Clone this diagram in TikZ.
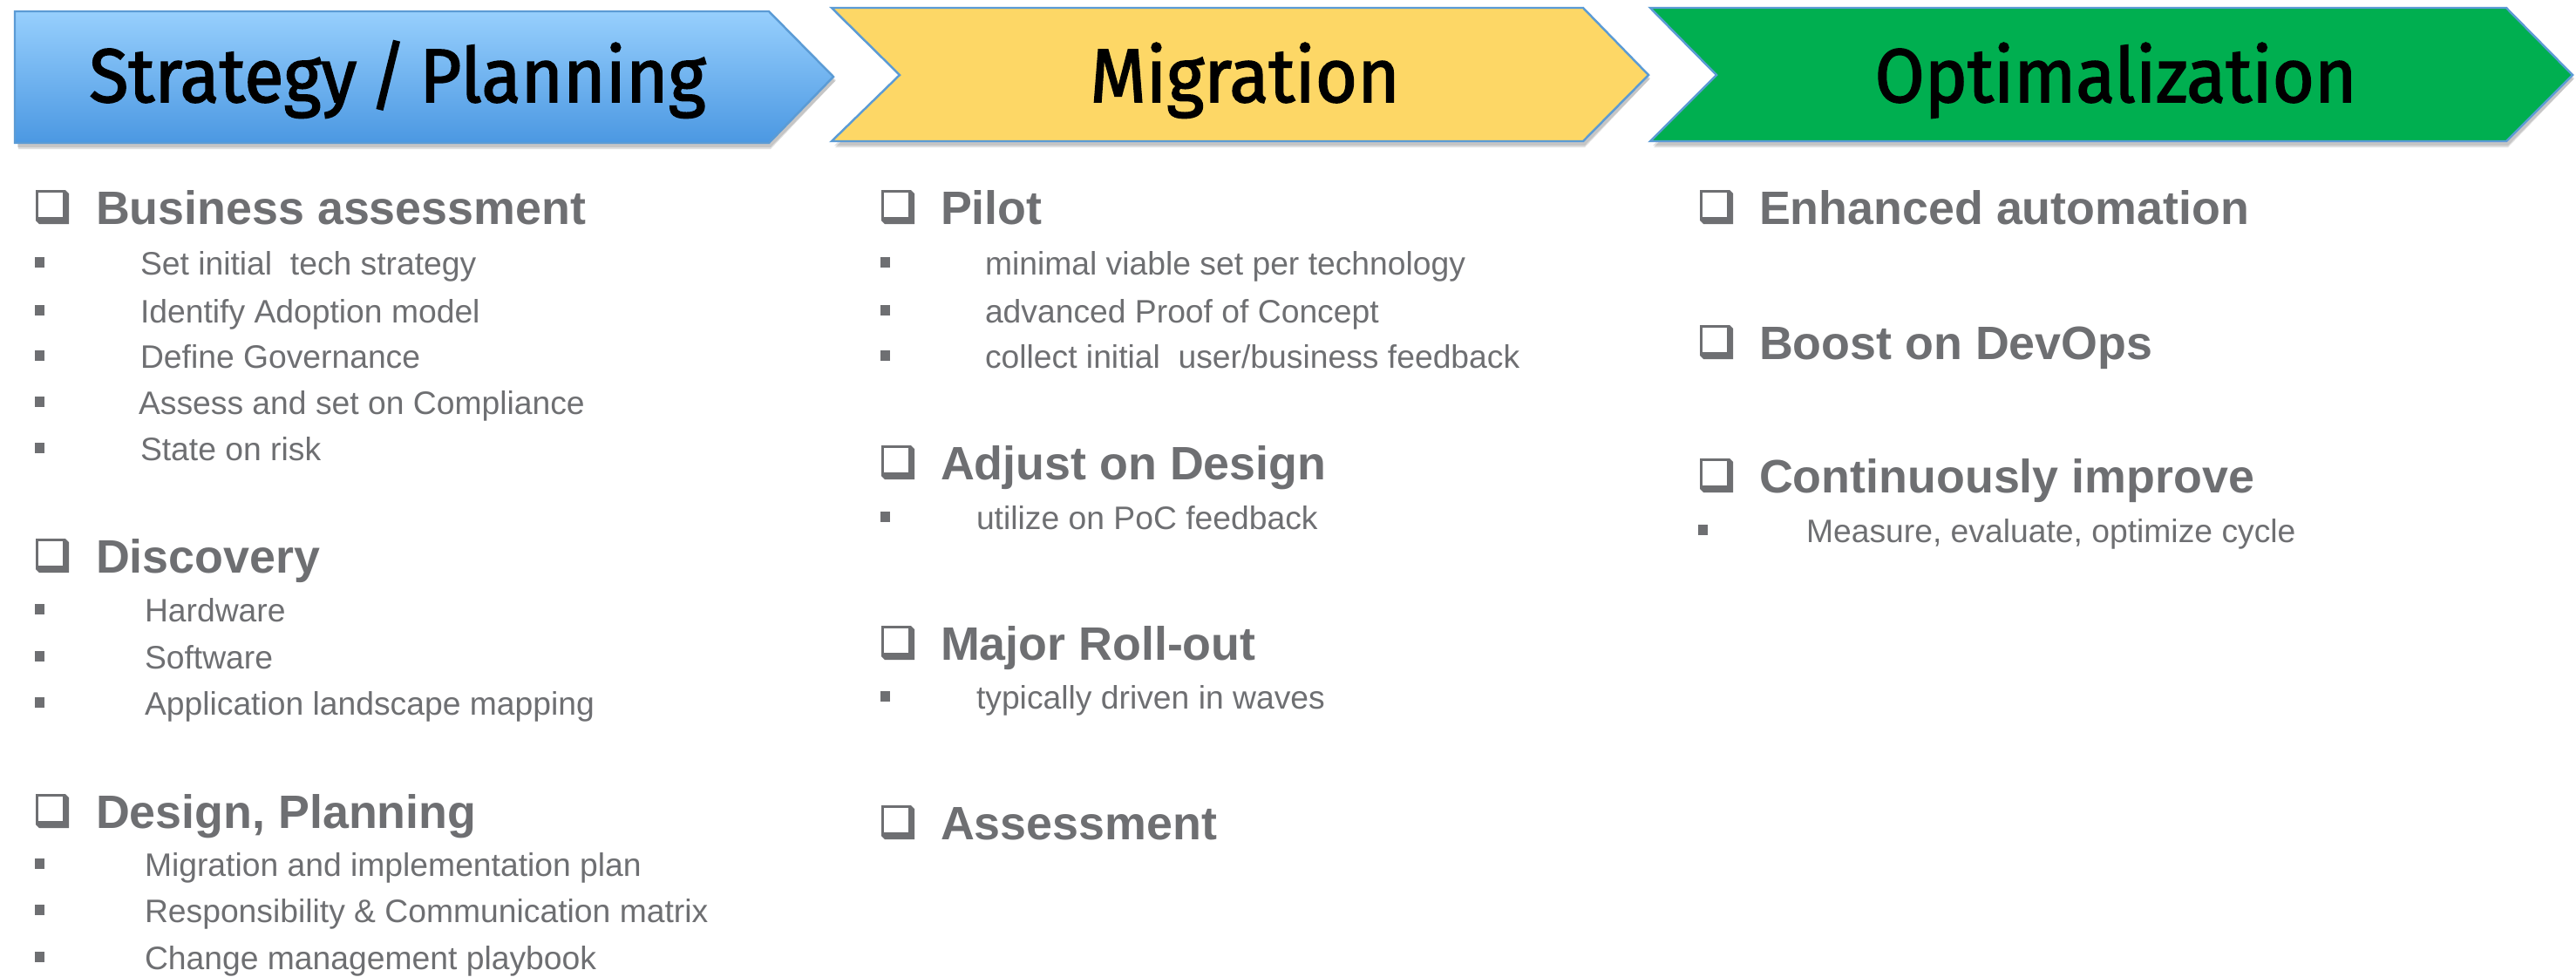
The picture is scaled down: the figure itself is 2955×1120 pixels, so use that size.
\documentclass[tikz,border=0pt]{standalone}
\usepackage{fontspec}
\setmainfont{Liberation Sans}
\newfontfamily\bodyfont{Liberation Sans}
\newfontfamily\ttlfamily[FakeStretch=0.95,FakeBold=1.8]{Fira Sans}
\definecolor{txtgray}{HTML}{6E6F72}
\definecolor{edgeblue}{HTML}{5B9BD5}
\definecolor{bluetop}{HTML}{97CFFD}
\definecolor{bluebot}{HTML}{4B98E2}
\definecolor{gold}{HTML}{FDD766}
\definecolor{grn}{HTML}{00AF50}
\newcommand\headfnt{\bodyfont\bfseries\fontsize{15.3}{17}\selectfont}
\newcommand\itemfnt{\bodyfont\fontsize{10.6}{12}\selectfont}
\newcommand\ttlfnt{\ttlfamily\fontsize{24.8}{28}\selectfont}
\tikzset{
  head/.style={anchor=base west, inner sep=0pt, outer sep=0pt, font=\headfnt, text=txtgray},
  item/.style={anchor=base west, inner sep=0pt, outer sep=0pt, font=\itemfnt, text=txtgray},
  ttl/.style={anchor=base, inner sep=0pt, outer sep=0pt, font=\ttlfnt, text=black},
  chev/.style={draw=edgeblue, line width=0.7pt, line join=miter},
  shad/.style={fill=black, opacity=0.12}
}
% checkbox (lower-right shadowed square): x, baseline
\newcommand\cbox[2]{%
  \fill[txtgray] (#1,#2-39) -- (#1+34,#2-39) -- (#1+38,#2-35) -- (#1+38,#2)
     -- (#1+4,#2) -- (#1,#2-4) -- cycle;
  \fill[white] (#1+3,#2-36) rectangle (#1+31,#2-8);
}
% bullet: x, baseline
\newcommand\bul[2]{\fill[txtgray] (#1,#2-20) rectangle (#1+11,#2-8);}
\begin{document}
\begin{tikzpicture}[x=0.01cm,y=-0.01cm]
\useasboundingbox (0,0) rectangle (2955,1120);
% shadows
\fill[shad] (20,17) -- (884,17) -- (959,92) -- (884,169) -- (20,169) -- cycle;
\fill[shad] (21,19) -- (884,19) -- (958,93) -- (884,171) -- (21,171) -- cycle;
\fill[shad] (957,13) -- (1818,13) -- (1893,90) -- (1818,167) -- (957,167) -- (1035,90) -- cycle;
\fill[shad] (958,15) -- (1818,15) -- (1892,91) -- (1818,169) -- (958,169) -- (1036,91) -- cycle;
\fill[shad] (1896,13) -- (2877,13) -- (2953,90) -- (2877,167) -- (1896,167) -- (1972,90) -- cycle;
\fill[shad] (1897,15) -- (2877,15) -- (2952,91) -- (2877,169) -- (1897,169) -- (1973,91) -- cycle;
% chevrons
\shade[chev, top color=bluetop, bottom color=bluebot]
  (17,13) -- (882,13) -- (956,88) -- (882,164) -- (17,164) -- cycle;
\filldraw[chev, fill=gold]
  (954,9) -- (1816,9) -- (1891,86) -- (1816,162) -- (954,162) -- (1032,86) -- cycle;
\filldraw[chev, fill=grn]
  (1893,9) -- (2875,9) -- (2951,86) -- (2875,162) -- (1893,162) -- (1969,86) -- cycle;
\node[ttl] (t1) at (456,117) {Strategy\,/\,Planning};
\node[ttl] (t2) at (1428,117) {Migration};
\node[ttl] (t3) at (2427,117) {Optimalization};

% ---- left column
\cbox{41}{257}
\node[head] (h11) at (110,257) {Business assessment};
\bul{40}{315}\node[item] (i111) at (161,315) {Set initial\ \ tech strategy};
\bul{40}{370}\node[item] (i112) at (161,370) {Identify Adoption model};
\bul{40}{422}\node[item] (i113) at (161,422) {Define Governance};
\bul{40}{475}\node[item] (i114) at (159,475) {Assess and set on Compliance};
\bul{40}{528}\node[item] (i115) at (161,528) {State on risk};

\cbox{41}{657}
\node[head] (h12) at (110,657) {Discovery};
\bul{40}{713}\node[item] (i121) at (166,713) {Hardware};
\bul{40}{767}\node[item] (i122) at (166,767) {Software};
\bul{40}{820}\node[item] (i123) at (166,820) {Application landscape mapping};

\cbox{41}{950}
\node[head] (h13) at (110,950) {Design, Planning};
\bul{40}{1005}\node[item] (i131) at (166,1005) {Migration and implementation plan};
\bul{40}{1058}\node[item] (i132) at (166,1058) {Responsibility \& Communication matrix};
\bul{40}{1112}\node[item] (i133) at (166,1112) {Change management playbook};

% ---- middle column
\cbox{1011}{257}
\node[head] (h21) at (1079,257) {Pilot};
\bul{1010}{315}\node[item] (i211) at (1130,315) {minimal viable set per technology};
\bul{1010}{370}\node[item] (i212) at (1130,370) {advanced Proof of Concept};
\bul{1010}{422}\node[item] (i213) at (1130,422) {collect initial\ \ user/business feedback};

\cbox{1011}{550}
\node[head] (h22) at (1079,550) {Adjust on Design};
\bul{1010}{607}\node[item] (i221) at (1120,607) {utilize on PoC feedback};

\cbox{1011}{757}
\node[head] (h23) at (1079,757) {Major Roll-out};
\bul{1010}{813}\node[item] (i231) at (1120,813) {typically driven in waves};

\cbox{1011}{963}
\node[head] (h24) at (1079,963) {Assessment};

% ---- right column
\cbox{1950}{257}
\node[head] (h31) at (2018,257) {Enhanced automation};
\cbox{1950}{412}
\node[head] (h32) at (2018,412) {Boost on DevOps};
\cbox{1950}{565}
\node[head] (h33) at (2018,565) {Continuously improve};
\bul{1948}{622}\node[item] (i331) at (2072,622) {Measure, evaluate, optimize cycle};
\end{tikzpicture}
\end{document}
